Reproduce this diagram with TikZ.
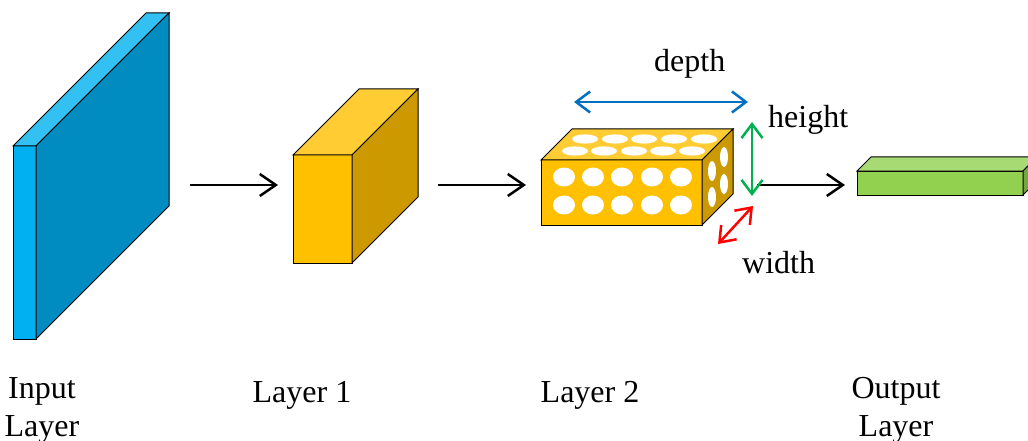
\documentclass[tikz,border=0pt]{standalone}
\usepackage{fontspec}
\setmainfont{Liberation Serif}
\usetikzlibrary{arrows.meta}
\definecolor{inFront}{HTML}{00B0F0}
\definecolor{inTop}{HTML}{33C0F3}
\definecolor{inSide}{HTML}{008CC0}
\definecolor{yFront}{HTML}{FFC000}
\definecolor{yTop}{HTML}{FFCD33}
\definecolor{ySide}{HTML}{CC9A00}
\definecolor{gFront}{HTML}{92D050}
\definecolor{gTop}{HTML}{A8DA73}
\definecolor{gSide}{HTML}{75A640}
\definecolor{dimBlue}{HTML}{0070C0}
\definecolor{dimGreen}{HTML}{00B050}
\definecolor{dimRed}{HTML}{FF0000}
\newcommand\drawcuboid[8]{%
  \filldraw[fill=#6] (#1,#2) rectangle (#3,#4);
  \filldraw[fill=#7] (#1,#2) -- (#1+#5,#2-#5) -- (#3+#5,#2-#5) -- (#3,#2) -- cycle;
  \filldraw[fill=#8] (#3,#2) -- (#3+#5,#2-#5) -- (#3+#5,#4-#5) -- (#3,#4) -- cycle;
}
\tikzset{
  face/.style={draw=black,line width=1pt,line join=miter},
  flow/.style={line width=2.5pt,-{Straight Barb[length=16pt,width=22pt,line width=2.5pt]}},
  dim/.style={line width=2.5pt,{Straight Barb[length=14pt,width=21pt,line width=2.5pt]}-{Straight Barb[length=14pt,width=21pt,line width=2.5pt]}},
  lbl/.style={font=\fontsize{32}{38}\selectfont,inner sep=0pt,align=center},
  hole/.style={fill=white,draw=none}
}
\begin{document}
\begin{tikzpicture}[x=1pt,y=-1pt]
\useasboundingbox (0,0) rectangle (1028,441);
\clip (0,0) rectangle (1028,441);
% blocks
\begin{scope}[face]
\drawcuboid{13}{146}{36}{339}{133}{inFront}{inTop}{inSide}
\drawcuboid{293}{155}{352}{263}{66}{yFront}{yTop}{ySide}
\drawcuboid{541}{160}{702}{225}{31}{yFront}{yTop}{ySide}
\drawcuboid{857}{171}{1023}{195}{14}{gFront}{gTop}{gSide}
\end{scope}
% holes front
\foreach \x in {564,593,622,652,681}{
  \foreach \y in {177,205}{
    \fill[hole] (\x,\y) ellipse [x radius=11, y radius=9.5];
  }
}
% holes top
\foreach \x in {585,615,644,674,704}{\fill[hole] (\x,139) ellipse [x radius=13, y radius=4.6];}
\foreach \x in {575,604,634,663,692}{\fill[hole] (\x,151) ellipse [x radius=13, y radius=4.6];}
% holes side
\foreach \x/\y in {712/171,712/197,724/157,724/184}{\fill[hole] (\x,\y) ellipse [x radius=4, y radius=10];}
% connector coordinates
\coordinate (inOut) at (190,185);
\coordinate (l1In) at (278,185);
\coordinate (l1Out) at (438,185);
\coordinate (l2In) at (526,185);
\coordinate (l2Out) at (757,185);
\coordinate (outIn) at (845,185);
\draw[flow] (inOut) -- (l1In);
\draw[flow] (l1Out) -- (l2In);
\draw[flow] (l2Out) -- (outIn);
% dimension arrows
\coordinate (dA) at (574,102);
\coordinate (dB) at (748,102);
\coordinate (hA) at (752,122);
\coordinate (hB) at (752,196);
\coordinate (wA) at (753,206);
\coordinate (wB) at (718,244);
\draw[dim,dimBlue] (dA) -- (dB);
\draw[dim,dimGreen] (hA) -- (hB);
\draw[dim,dimRed] (wA) -- (wB);
% labels
\node[lbl,anchor=base west] (tDepth) at (654,72) {depth};
\node[lbl,anchor=base west] (tHeight) at (768,128) {height};
\node[lbl,anchor=base west] (tWidth) at (742,273) {width};
\node[lbl] (tIn) at (42,410) {Input\\Layer};
\node[lbl,anchor=base] (tL1) at (302,402) {Layer 1};
\node[lbl,anchor=base] (tL2) at (590,402) {Layer 2};
\node[lbl] (tOut) at (896,410) {Output\\Layer};
\end{tikzpicture}
\end{document}
